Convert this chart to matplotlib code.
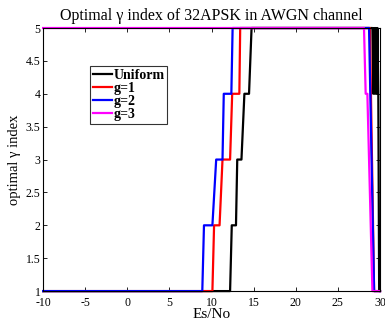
import matplotlib
matplotlib.use("Agg")
import matplotlib.pyplot as plt

# Es/No breakpoints (dB) and optimal gamma index for each weighting
uniform_x = [-10, 12.2, 12.4, 12.9, 13.05, 13.55, 13.9, 14.45, 14.75, 29.1, 29.2, 29.3, 29.4,
             29.5, 29.6, 29.7, 29.8, 29.9, 30]
uniform_y = [1, 1, 2, 2, 3, 3, 4, 4, 5, 5, 4, 5, 4, 5, 4, 5, 4, 1, 1]

g1_x = [-10, 10.1, 10.3, 10.95, 11.3, 12.2, 12.45, 13.3, 13.4, 28.8, 29.3, 30]
g1_y = [1, 1, 2, 2, 3, 3, 4, 4, 5, 5, 1, 1]

g2_x = [-10, 8.9, 9.1, 10.1, 10.55, 11.3, 11.45, 12.35, 12.5, 28.7, 29.3, 30]
g2_y = [1, 1, 2, 2, 3, 3, 4, 4, 5, 5, 1, 1]

g3_x = [-10, 28.1, 28.3, 28.5, 29.1, 30]
g3_y = [5, 5, 4, 4, 1, 1]

labels = ["Uniform", "g=1", "g=2", "g=3"]
colors = ["black", "red", "blue", "magenta"]

plt.rcParams["font.family"] = ["Liberation Serif", "DejaVu Serif"]
plt.rcParams["axes.unicode_minus"] = False

fig = plt.figure(figsize=(3.85, 3.22), dpi=100)
ax = fig.add_axes([0.112, 0.096, 0.875, 0.817])

series = [(uniform_x, uniform_y), (g1_x, g1_y), (g2_x, g2_y), (g3_x, g3_y)]
for (xs, ys), lab, col in zip(series, labels, colors):
    ax.plot(xs, ys, color=col, linewidth=1.6, label=lab, clip_on=False)

ax.set_xlim(-10, 30)
ax.set_ylim(1, 5)
ax.set_xticks(range(-10, 31, 5))
ax.set_yticks([1, 1.5, 2, 2.5, 3, 3.5, 4, 4.5, 5])
ax.set_yticklabels(["1", "1.5", "2", "2.5", "3", "3.5", "4", "4.5", "5"])
ax.tick_params(direction="in", top=True, right=True, labelsize=8.5, length=3, width=0.6, pad=2)
ax.tick_params(axis="x", pad=4.5)
for s in ax.spines.values():
    s.set_linewidth(0.8)

ax.set_title("Optimal \u03b3 index of 32APSK in AWGN channel", fontsize=11.5, pad=6)
ax.set_xlabel("Es/No", fontsize=11, labelpad=-1)
ax.set_ylabel("optimal \u03b3 index", fontsize=10.5, labelpad=3)

leg = ax.legend(loc="upper left", bbox_to_anchor=(0.14, 0.855), prop={"weight": "bold", "size": 10},
                frameon=True, fancybox=False, edgecolor="black", handlelength=1.35,
                handletextpad=0.1, labelspacing=0.0, borderpad=0.2, borderaxespad=0)
leg.get_frame().set_linewidth(0.8)

fig.savefig("out.png", dpi=100)
